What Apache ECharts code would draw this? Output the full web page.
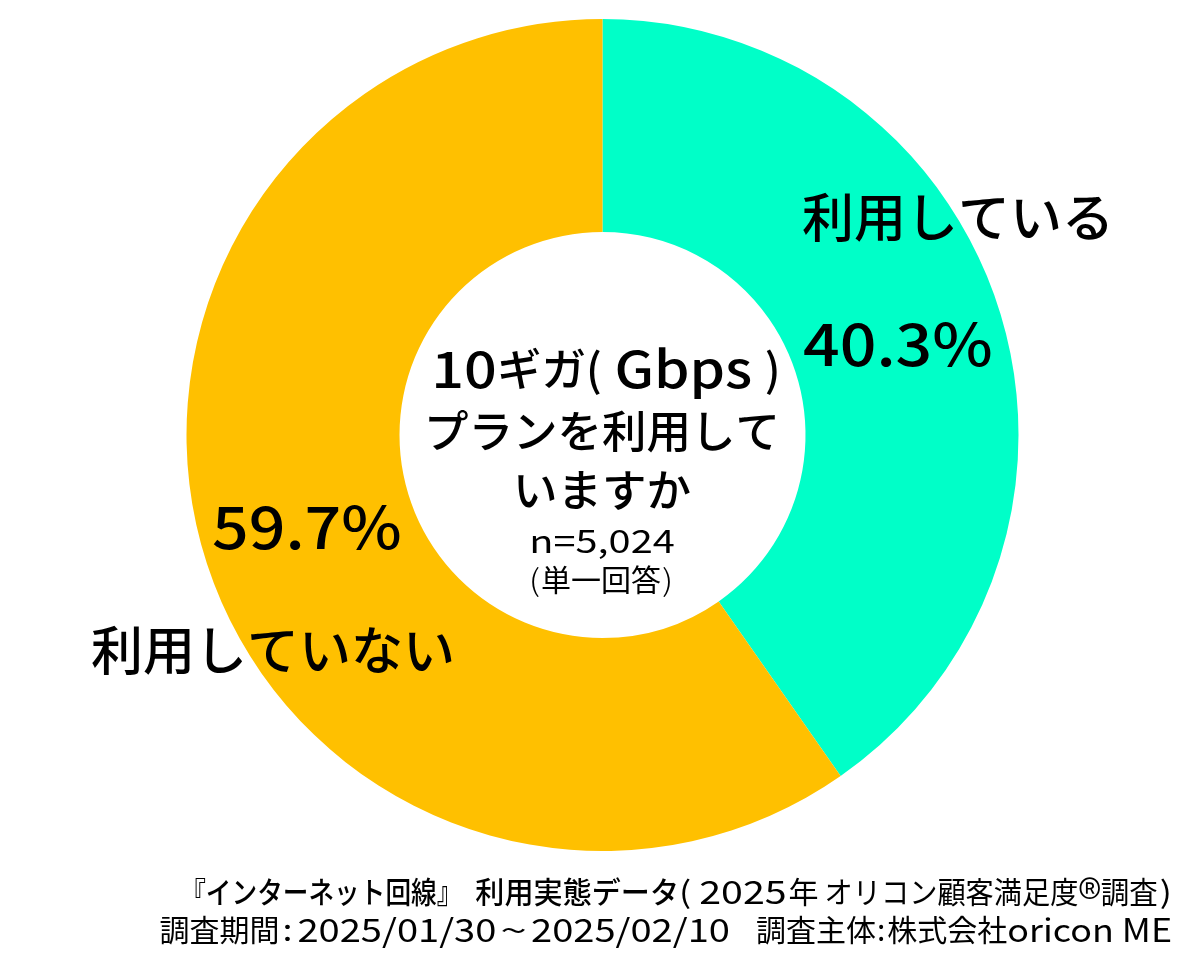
<!DOCTYPE html>
<html>
<head>
<meta charset="utf-8">
<style>html,body{margin:0;padding:0;background:#fff}#main{width:1200px;height:975px}</style>
<script src="https://cdn.jsdelivr.net/npm/echarts@6/dist/echarts.min.js"></script>
</head>
<body>
<div id="main"></div>
<script>
var categories = ['利用している', '利用していない'];
var values = [40.3, 59.7];
var colors = ['#00FFC8', '#FFC000'];
var valueLabels = ['40.3%', '59.7%'];
var centerTitle = ['10', 'ギガ(', ' Gbps ', ')', 'プランを利用して', 'いますか'];
var sampleLines = ['n=5,024', '(', '単一回答', ')'];
var footLine1 = ['『インターネット回線』', '利用実態データ', '(', '2025', '年', 'オリコン顧客満足度', '®', '調査', ')'];
var footLine2 = ['調査期間', ':', '2025/01/30', '~', '2025/02/10', '調査主体', ':', '株式会社', 'oricon ME'];

var font = '"Noto Sans CJK JP", "Noto Sans", sans-serif';
var measure = document.createElement('canvas').getContext('2d');

// one run of text: size, weight, horizontal stretch, gap before it, shift down
function run(t, size, weight, sx, gap, dy) {
    return { t: t, size: size, weight: weight, sx: sx || 1, gap: gap || 0, dy: dy || 0 };
}

// the original font is wider than Noto in latin and tighter in kana,
// so runs get stretched one by one and laid out left to right
function line(anchor, align, y, runs) {
    var widths = runs.map(function (r) {
        measure.font = r.weight + ' ' + r.size + 'px ' + font;
        return measure.measureText(r.t).width * r.sx + r.gap;
    });
    var total = widths.reduce(function (a, b) { return a + b; }, 0);
    var x = align === 'right' ? anchor - total : align === 'center' ? anchor - total / 2 : anchor;
    return runs.map(function (r, i) {
        var el = {
            type: 'text', z: 100, x: x + r.gap, y: y + r.dy, scaleX: r.sx,
            style: { text: r.t, font: r.weight + ' ' + r.size + 'px ' + font, fill: '#000', verticalAlign: 'middle' }
        };
        x += widths[i];
        return el;
    });
}

var graphics = [].concat(
    line(802, 'left', 217, [run(categories[0], 52, 500)]),
    line(803, 'left', 344, [run(valueLabels[0], 58, 500, 1.11)]),
    line(212, 'left', 527, [run(valueLabels[1], 58, 500, 1.11)]),
    line(91, 'left', 650, [run(categories[1], 52, 500)]),
    line(606, 'center', 369, [
        run(centerTitle[0], 50, 500, 1.15),
        run(centerTitle[1], 44.5, 500),
        run(centerTitle[2], 50, 500, 1.13),
        run(centerTitle[3], 44.5, 500)
    ]),
    line(602, 'center', 431, [run(centerTitle[4], 44.5, 500)]),
    line(602, 'center', 490, [run(centerTitle[5], 44.5, 500)]),
    line(602, 'center', 541, [run(sampleLines[0], 32, 400, 1.24)]),
    line(601, 'center', 580, [
        run(sampleLines[1], 30, 300, 1.2),
        run(sampleLines[2], 30, 400, 1, 1),
        run(sampleLines[3], 30, 300, 1.2, 1)
    ]),
    line(1172, 'right', 892, [
        run(footLine1[0], 30, 500, 0.855),
        run(footLine1[1], 30, 500, 0.97, 13),
        run(footLine1[2], 30, 400, 1.2, 0),
        run(footLine1[3], 32, 400, 1.23, 8),
        run(footLine1[4], 30, 400, 1, 2),
        run(footLine1[5], 30, 400, 0.94, 6),
        run(footLine1[6], 50, 300, 1, 0, 6),
        run(footLine1[7], 30, 400, 0.95),
        run(footLine1[8], 30, 400, 1.2, 2)
    ]),
    line(1172, 'right', 930, [
        run(footLine2[0], 30, 400),
        run(footLine2[1], 30, 400, 1.2, 3),
        run(footLine2[2], 32, 400, 1.19, 5),
        run(footLine2[3], 30, 400, 1.6, 4),
        run(footLine2[4], 32, 400, 1.19, 4),
        run(footLine2[5], 30, 400, 1, 26),
        run(footLine2[6], 30, 400, 1, 1),
        run(footLine2[7], 30, 400, 1, 2),
        run(footLine2[8], 32, 400, 1.12)
    ])
);

var chart = echarts.init(document.getElementById('main'));
chart.setOption({
    animation: false,
    series: [{
        type: 'pie',
        center: [602.5, 435],
        radius: [203, 416],
        startAngle: 90,
        silent: true,
        label: { show: false },
        labelLine: { show: false },
        data: categories.map(function (c, i) {
            return { name: c, value: values[i], itemStyle: { color: colors[i] } };
        })
    }],
    graphic: graphics
});
</script>
</body>
</html>
